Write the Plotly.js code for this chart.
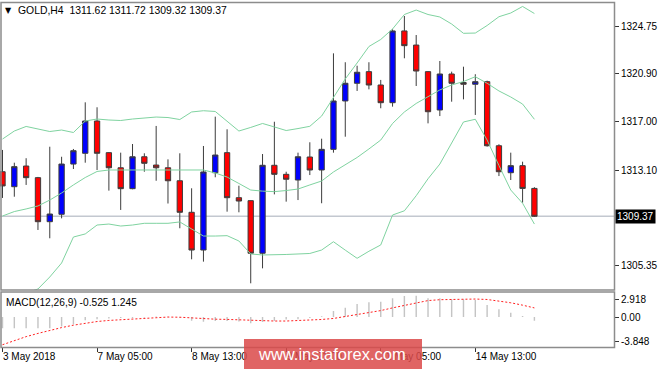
<!DOCTYPE html>
<html><head><meta charset="utf-8">
<script src="https://cdn.plot.ly/plotly-3.0.1.min.js"></script>
<style>html,body{margin:0;padding:0;background:#fff;}#chart{width:665px;height:369px;}</style>
</head><body><div id="chart"></div>
<script>
// ---------- DATA ----------
const symbol = 'GOLD,H4';
const bars = [0,1,2,3,4,5,6,7,8,9,10,11,12,13,14,15,16,17,18,19,20,21,22,23,24,25,26,27,28,29,30,31,32,33,34,35,36,37,38,39,40,41,42,43,44,45];
const openP  = [1312.97,1311.76,1313.43,1312.49,1308.93,1309.53,1313.59,1314.46,1317.07,1314.51,1313.29,1311.60,1314.18,1313.51,1313.29,1312.24,1309.69,1306.64,1312.89,1314.51,1310.87,1310.63,1306.38,1313.49,1312.76,1312.30,1314.16,1313.11,1314.78,1318.69,1320.12,1321.06,1319.98,1318.55,1324.35,1323.21,1321.06,1317.96,1320.87,1320.18,1320.04,1320.25,1315.07,1312.89,1313.46,1311.62];
const highP  = [1314.73,1313.70,1314.06,1312.55,1314.99,1314.18,1314.81,1318.58,1318.18,1314.55,1314.51,1315.21,1314.46,1316.67,1313.97,1314.46,1311.63,1315.05,1317.42,1316.40,1311.84,1310.65,1314.40,1317.01,1312.97,1314.51,1315.35,1315.64,1322.54,1321.82,1321.54,1321.82,1320.39,1324.48,1325.56,1324.02,1321.10,1321.92,1321.06,1321.46,1320.85,1320.33,1315.19,1314.51,1313.78,1311.72];
const lowP   = [1310.85,1310.95,1311.90,1308.26,1307.59,1309.20,1313.19,1313.70,1313.11,1311.44,1309.88,1311.55,1312.97,1312.24,1310.40,1308.40,1305.89,1305.70,1312.52,1309.74,1309.69,1303.95,1305.16,1311.14,1310.55,1310.68,1312.70,1310.42,1314.51,1315.80,1319.50,1319.63,1318.10,1318.23,1322.14,1319.90,1316.88,1317.47,1318.63,1318.82,1317.56,1315.00,1312.62,1312.30,1310.47,1309.32];
const closeP = [1311.82,1313.38,1312.49,1308.93,1309.55,1313.59,1314.67,1317.07,1314.46,1313.29,1311.60,1314.18,1313.65,1313.29,1312.24,1309.69,1306.64,1312.95,1314.32,1310.87,1310.60,1306.38,1313.49,1312.76,1312.36,1314.18,1313.11,1314.78,1318.69,1320.12,1321.01,1319.98,1318.55,1324.35,1323.16,1321.11,1317.82,1320.87,1320.12,1320.04,1320.25,1315.07,1312.97,1313.46,1311.62,1309.37];
const bbUpper  = [1315.61,1316.26,1316.63,1316.42,1316.22,1316.34,1316.14,1317.07,1317.23,1317.15,1317.11,1317.23,1317.31,1317.39,1317.35,1317.19,1317.80,1317.90,1317.84,1317.07,1316.26,1316.55,1316.87,1316.59,1316.30,1316.46,1316.64,1317.47,1318.93,1320.47,1321.76,1323.09,1323.66,1324.51,1325.68,1326.04,1325.68,1325.48,1324.91,1324.16,1324.18,1324.79,1325.50,1325.80,1326.33,1325.76];
const bbMiddle = [1309.39,1309.75,1309.96,1310.20,1310.68,1311.25,1311.90,1312.50,1312.99,1313.11,1313.11,1313.11,1313.11,1313.11,1313.15,1313.11,1313.11,1313.11,1312.87,1312.54,1312.02,1311.49,1311.40,1311.36,1311.45,1311.57,1311.90,1312.22,1312.95,1313.51,1314.12,1314.81,1315.53,1316.87,1317.80,1318.49,1319.01,1319.58,1319.98,1320.26,1320.65,1320.12,1319.50,1319.01,1318.44,1317.21];
const bbLower  = [1302.60,1302.92,1303.17,1303.49,1304.46,1305.59,1307.69,1307.94,1308.66,1308.74,1308.58,1308.66,1308.80,1308.80,1308.80,1308.91,1308.37,1307.77,1307.77,1307.80,1307.37,1306.32,1306.24,1306.24,1306.28,1306.32,1306.36,1306.64,1307.31,1306.63,1305.97,1306.54,1307.05,1309.47,1309.81,1311.03,1312.40,1313.59,1315.29,1316.99,1317.21,1315.53,1313.47,1311.49,1310.42,1308.74];
const macdMain   = [-1.55,-1.55,-1.55,-1.55,-1.55,-1.30,-1.00,-0.45,-0.30,-0.20,-0.15,-0.12,-0.08,0.08,0.05,-0.10,-0.50,-0.65,-0.55,-0.55,-0.60,-0.85,-0.70,-0.55,-0.35,-0.30,-0.15,0.10,0.82,1.28,1.78,2.01,2.10,2.56,2.88,2.918,2.56,2.56,2.42,2.42,2.33,1.64,1.05,0.59,0.14,-0.525];
const macdSignal = [-3.80,-3.20,-2.69,-2.25,-1.80,-1.45,-1.12,-0.85,-0.62,-0.47,-0.38,-0.28,-0.20,-0.08,-0.01,-0.03,-0.14,-0.24,-0.30,-0.33,-0.40,-0.47,-0.52,-0.55,-0.55,-0.51,-0.44,-0.34,-0.20,0.05,0.35,0.62,0.88,1.25,1.60,1.93,2.25,2.37,2.43,2.46,2.46,2.40,2.22,1.95,1.62,1.245];
const timeTickBars   = [0,8,16,24,32,40];
const timeTickLabels = ['3 May 2018','7 May 05:00','8 May 13:00','9 May 21:00','11 May 05:00','14 May 13:00'];
const priceTicks = [1324.75,1320.90,1317.00,1313.10,1305.35];
const macdTickVals = [2.466,0,-3.42];
const macdTickText = ['2.918','0.00','-3.848'];
const watermark = 'www.instaforex.com';

// ---------- LAYOUT HELPERS (pixel positions) ----------
const W = 665, H = 369, ML = 0, MR = 51, MT = 2, MB = 22;
const PW = W - ML - MR, PH = H - MT - MB;
const px = x => (x - ML) / PW;
const py = y => (H - MB - y) / PH;
const FONT = 'Liberation Sans, Arial, sans-serif';
const last = bars.length - 1;

const traces = [
  {type:'scatter', mode:'lines', x:bars, y:bbUpper, xaxis:'x', yaxis:'y', line:{color:'#7fd3a0', width:1}, hoverinfo:'skip'},
  {type:'scatter', mode:'lines', x:bars, y:bbMiddle, xaxis:'x', yaxis:'y', line:{color:'#7fd3a0', width:1}, hoverinfo:'skip'},
  {type:'scatter', mode:'lines', x:bars, y:bbLower, xaxis:'x', yaxis:'y', line:{color:'#7fd3a0', width:1}, hoverinfo:'skip'},
  {type:'candlestick', x:bars, open:openP, high:highP, low:lowP, close:closeP, xaxis:'x', yaxis:'y',
   increasing:{fillcolor:'#0000ff', line:{color:'#3c3c3c', width:1}},
   decreasing:{fillcolor:'#ff0000', line:{color:'#3c3c3c', width:1}},
   whiskerwidth:0, hoverinfo:'skip'},
  {type:'bar', x:bars, y:macdMain, xaxis:'x', yaxis:'y2', width:0.12, marker:{color:'#c4c4c4', line:{width:0}}, hoverinfo:'skip'},
  {type:'scatter', mode:'lines', x:bars, y:macdSignal, xaxis:'x', yaxis:'y2', line:{color:'#ff2020', width:1, dash:'2px,2px'}, hoverinfo:'skip'}
];

const layout = {
  width:W, height:H, margin:{l:ML, r:MR, t:MT, b:MB, pad:0},
  paper_bgcolor:'#ffffff', plot_bgcolor:'#ffffff', showlegend:false,
  boxgap:0.36,
  font:{family:FONT, size:10, color:'#000'},
  xaxis:{domain:[0,1], anchor:'y2', range:[(0-2.5)/11.82, (PW-2.5)/11.82], type:'linear',
    tickvals:timeTickBars, ticktext:timeTickLabels, ticks:'outside', ticklen:4, tickcolor:'#333', tickwidth:1,
    ticklabelposition:'outside right', tickfont:{family:FONT, size:10, color:'#000'},
    showgrid:false, zeroline:false, showline:false, rangeslider:{visible:false}, fixedrange:true},
  yaxis:{domain:[py(290),1], anchor:'x', side:'right', range:[1324.75-(290-26)*0.080841, 1324.75+(26-2)*0.080841],
    tickvals:priceTicks, ticktext:priceTicks.map(v=>v.toFixed(2)), ticks:'outside', ticklen:4, tickcolor:'#333',
    tickfont:{family:FONT, size:10, color:'#000'}, showgrid:false, zeroline:false, showline:false, fixedrange:true},
  yaxis2:{domain:[0,py(292.5)], anchor:'x', side:'right', range:[-(347-317)/7.3, (317-292.5)/7.3],
    tickvals:macdTickVals, ticktext:macdTickText, ticks:'outside', ticklen:4, tickcolor:'#333',
    tickfont:{family:FONT, size:10, color:'#000'}, showgrid:false, zeroline:false, showline:false, fixedrange:true},
  shapes:[
    {type:'line', xref:'paper', x0:0, x1:1, yref:'y', y0:closeP[last], y1:closeP[last], line:{color:'#c3c8d0', width:1.5}, layer:'below'},
    {type:'rect', xref:'paper', yref:'paper', x0:px(1), x1:px(614.5), y0:py(290), y1:py(2.5), line:{color:'#8c8c8c', width:1.5}, fillcolor:'rgba(0,0,0,0)'},
    {type:'rect', xref:'paper', yref:'paper', x0:px(1), x1:px(614.5), y0:py(347.5), y1:py(292), line:{color:'#8c8c8c', width:1.5}, fillcolor:'rgba(0,0,0,0)'},
    {type:'rect', xref:'paper', yref:'paper', x0:px(244), x1:px(422), y0:py(369), y1:py(339), line:{width:0}, fillcolor:'rgba(219,73,73,0.85)', layer:'above'}
  ],
  annotations:[
    {xref:'paper', yref:'paper', x:px(8), y:py(11), xanchor:'center', yanchor:'middle', text:'▼', showarrow:false, font:{family:'DejaVu Sans', size:8, color:'#000'}},
    {xref:'paper', yref:'paper', x:px(16), y:py(11), xanchor:'left', yanchor:'middle', showarrow:false,
     text: symbol + '\u00a0\u00a0' + [openP[last],highP[last],lowP[last],closeP[last]].map(v=>v.toFixed(2)).join(' '),
     font:{family:FONT, size:10.4, color:'#000'}},
    {xref:'paper', yref:'paper', x:px(4), y:py(302.5), xanchor:'left', yanchor:'middle', showarrow:false,
     text:'MACD(12,26,9) ' + macdMain[last].toFixed(3) + ' ' + macdSignal[last].toFixed(3),
     font:{family:FONT, size:10.2, color:'#000'}},
    {xref:'paper', yref:'y', x:1, y:closeP[last], xanchor:'left', yanchor:'middle', xshift:1, showarrow:false,
     text:closeP[last].toFixed(2), bgcolor:'#000000', borderpad:1, font:{family:FONT, size:10, color:'#ffffff'}},
    {xref:'paper', yref:'paper', x:px(332), y:py(354), xanchor:'center', yanchor:'middle', showarrow:false,
     text:watermark, font:{family:FONT, size:16.5, color:'#ffffff'}}
  ]
};

Plotly.newPlot('chart', traces, layout, {staticPlot:true, displayModeBar:false});
</script></body></html>
